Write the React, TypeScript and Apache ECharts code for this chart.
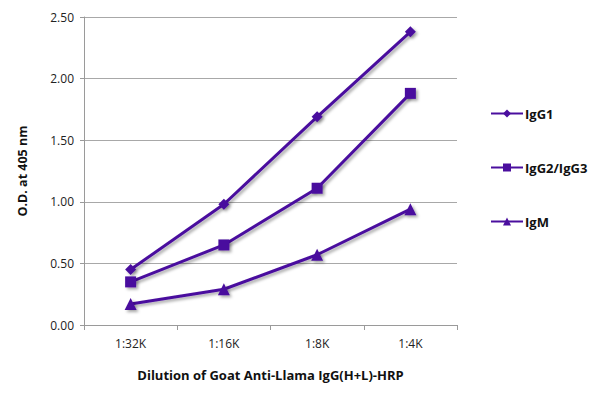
import React, { useEffect, useRef } from "react";
import * as echarts from "echarts";

const categories = ["1:32K", "1:16K", "1:8K", "1:4K"];
const igg1 = [0.45, 0.98, 1.69, 2.38];
const igg2 = [0.35, 0.65, 1.11, 1.88];
const igm = [0.17, 0.29, 0.57, 0.94];
const seriesNames = ["IgG1", "IgG2/IgG3", "IgM"];
const yTicks = [0, 0.5, 1, 1.5, 2, 2.5];

const COLOR = "#4a0e9e";
const FONT = "'Open Sans', 'Noto Sans', sans-serif";

export default function App() {
  const ref = useRef<HTMLDivElement>(null);
  useEffect(() => {
    const chart = echarts.init(ref.current!, null, { renderer: "svg" });
    const mk = (name: string, data: number[], symbol: string, size: number) => ({
      name,
      type: "line",
      data,
      symbol,
      symbolSize: size,
      lineStyle: { color: COLOR, width: 3, shadowColor: "rgba(0,0,0,0.35)", shadowBlur: 3, shadowOffsetX: 2, shadowOffsetY: 2 },
      itemStyle: { color: COLOR, shadowColor: "rgba(0,0,0,0.35)", shadowBlur: 3, shadowOffsetX: 2, shadowOffsetY: 2 },
    });
    chart.setOption({
      animation: false,
      grid: { left: 84, right: 143, top: 17, bottom: 72 },
      xAxis: {
        type: "category",
        data: categories,
        boundaryGap: true,
        axisLine: { lineStyle: { color: "#9a9a9a", width: 1 } },
        axisTick: { show: true, length: 5, lineStyle: { color: "#9a9a9a" } },
        axisLabel: { color: "#222", fontSize: 12, fontFamily: FONT, margin: 12 },
        name: "Dilution of Goat Anti-Llama IgG(H+L)-HRP",
        nameLocation: "middle",
        nameGap: 43,
        nameTextStyle: { color: "#111", fontSize: 13, fontWeight: "bold", fontFamily: FONT },
      },
      yAxis: {
        type: "value",
        min: 0,
        max: 2.5,
        interval: 0.5,
        axisLine: { show: true, lineStyle: { color: "#9a9a9a", width: 1 } },
        axisTick: { show: true, length: 4, lineStyle: { color: "#9a9a9a" } },
        splitLine: { lineStyle: { color: "#a8a8a8", width: 1 } },
        axisLabel: {
          color: "#222",
          fontSize: 12,
          fontFamily: FONT,
          margin: 10,
          formatter: (v: number) => (yTicks.includes(v) ? v.toFixed(2) : ""),
        },
        name: "O.D. at 405 nm",
        nameLocation: "middle",
        nameGap: 55,
        nameRotate: 90,
        nameTextStyle: { color: "#111", fontSize: 12.5, fontWeight: "bold", fontFamily: FONT },
      },
      legend: {
        orient: "vertical",
        left: 485,
        top: 102,
        itemWidth: 32,
        itemHeight: 10,
        itemGap: 41,
        data: seriesNames,
        textStyle: { color: "#111", fontSize: 13, fontWeight: "bold", fontFamily: FONT, padding: [0, 0, 0, -3] },
      },
      series: [
        mk(seriesNames[0], igg1, "diamond", 11),
        mk(seriesNames[1], igg2, "rect", 11),
        mk(seriesNames[2], igm, "triangle", 12),
      ],
    });
    return () => chart.dispose();
  }, []);
  return <div ref={ref} style={{ width: 600, height: 397, position: "absolute", left: 0, top: 0, background: "#fff" }} />;
}
